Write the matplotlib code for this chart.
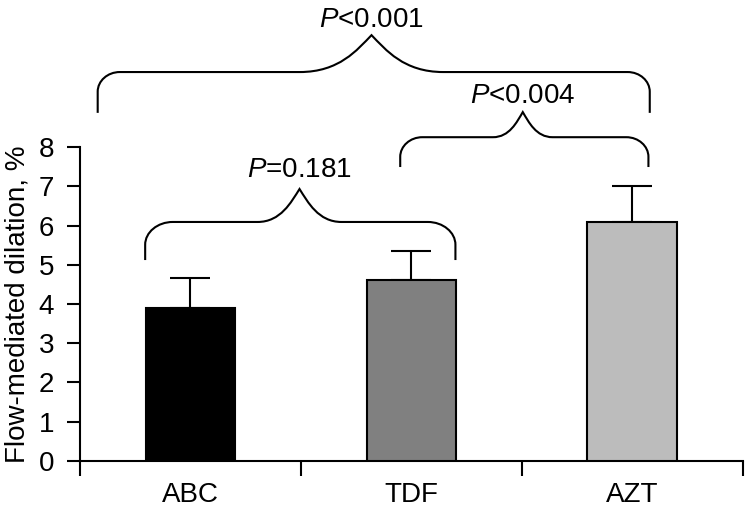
import matplotlib
matplotlib.use("Agg")
import matplotlib.pyplot as plt
from matplotlib.path import Path
from matplotlib.patches import PathPatch
import numpy as np

# ---- data ----
categories = ["ABC", "TDF", "AZT"]
means = [3.9, 4.6, 6.1]
errors = [0.77, 0.74, 0.9]
p_labels = ["$P$=0.181", "$P$<0.004", "$P$<0.001"]
pairs = [(0, 1), (1, 2), (0, 2)]
yticks = [0, 1, 2, 3, 4, 5, 6, 7, 8]

# ---- styling ----
bar_colors = ["#000000", "#808080", "#bcbcbc"]
plt.rcParams["font.family"] = ["Liberation Sans", "DejaVu Sans"]
plt.rcParams["mathtext.fontset"] = "custom"
plt.rcParams["mathtext.rm"] = "Liberation Sans"
plt.rcParams["mathtext.it"] = "Liberation Sans:italic"

fig = plt.figure(figsize=(7.5, 5.16), dpi=100)
ax = fig.add_axes([0.1067, 0.1066, 0.8833, 0.6085])

x = np.arange(len(categories))
ax.bar(x, means, width=0.405, color=bar_colors, edgecolor="black",
       linewidth=1.5, zorder=3)
ax.errorbar(x, means, yerr=[np.zeros(len(means)), errors], fmt="none",
            ecolor="black", elinewidth=1.5, capsize=14.4, capthick=1.5,
            zorder=2)

ax.set_xlim(-0.5, 2.5)
ax.set_ylim(0, 8)
ax.set_yticks(yticks)
ax.set_xticks([-0.5, 0.5, 1.5, 2.5])
ax.set_xticklabels([])
ax.set_xticks(x, minor=True)
ax.set_xticklabels(categories, minor=True)
ax.tick_params(axis="x", which="major", direction="out", length=11, width=1.5)
ax.tick_params(axis="x", which="minor", length=0, pad=15, labelsize=20)
ax.tick_params(axis="y", direction="out", length=9.5, width=1.5, pad=9,
               labelsize=20)
for s in ["top", "right"]:
    ax.spines[s].set_visible(False)
for s in ["left", "bottom"]:
    ax.spines[s].set_linewidth(1.5)
ax.set_ylabel("Flow-mediated dilation, %", fontsize=20, va="center")
ax.yaxis.set_label_coords(-0.094, 0.5)

# ---- braces (placement geometry) ----
brace_geom = [
    # x0, x1, y_bottom, y_mid, y_apex, x_center, corner_rx, corner_ry, half_w, text_gap
    (-0.205, 1.20, 5.12, 6.09, 6.93, 0.494, 0.125, 0.58, 0.19, 0.30),
    (0.95, 2.074, 7.49, 8.25, 8.89, 1.505, 0.10, 0.50, 0.135, 0.22),
    (-0.42, 2.08, 8.87, 9.91, 10.85, 0.82, 0.10, 0.50, 0.325, 0.20),
]


def brace(ax, x0, x1, yb, ym, ya, xc, rx, ry, hw):
    verts = [
        (x0, yb), (x0, ym - ry),
        (x0, ym - ry * 0.45), (x0 + rx * 0.45, ym), (x0 + rx, ym),
        (xc - hw, ym),
        (xc - hw * 0.45, ym), (xc - hw * 0.2, ya - (ya - ym) * 0.4), (xc, ya),
        (xc + hw * 0.2, ya - (ya - ym) * 0.4), (xc + hw * 0.45, ym), (xc + hw, ym),
        (x1 - rx, ym),
        (x1 - rx * 0.45, ym), (x1, ym - ry * 0.45), (x1, ym - ry),
        (x1, yb),
    ]
    codes = [Path.MOVETO, Path.LINETO,
             Path.CURVE4, Path.CURVE4, Path.CURVE4,
             Path.LINETO,
             Path.CURVE4, Path.CURVE4, Path.CURVE4,
             Path.CURVE4, Path.CURVE4, Path.CURVE4,
             Path.LINETO,
             Path.CURVE4, Path.CURVE4, Path.CURVE4,
             Path.LINETO]
    p = PathPatch(Path(verts, codes), facecolor="none", edgecolor="black",
                  linewidth=1.5, clip_on=False, zorder=4)
    ax.add_patch(p)


for (pair, lab, g) in zip(pairs, p_labels, brace_geom):
    x0, x1, yb, ym, ya, xc, rx, ry, hw, gap = g
    brace(ax, x0, x1, yb, ym, ya, xc, rx, ry, hw)
    ax.text(xc, ya + gap, lab, ha="center", va="baseline", fontsize=20,
            clip_on=False)

fig.savefig("out.png", dpi=100)
